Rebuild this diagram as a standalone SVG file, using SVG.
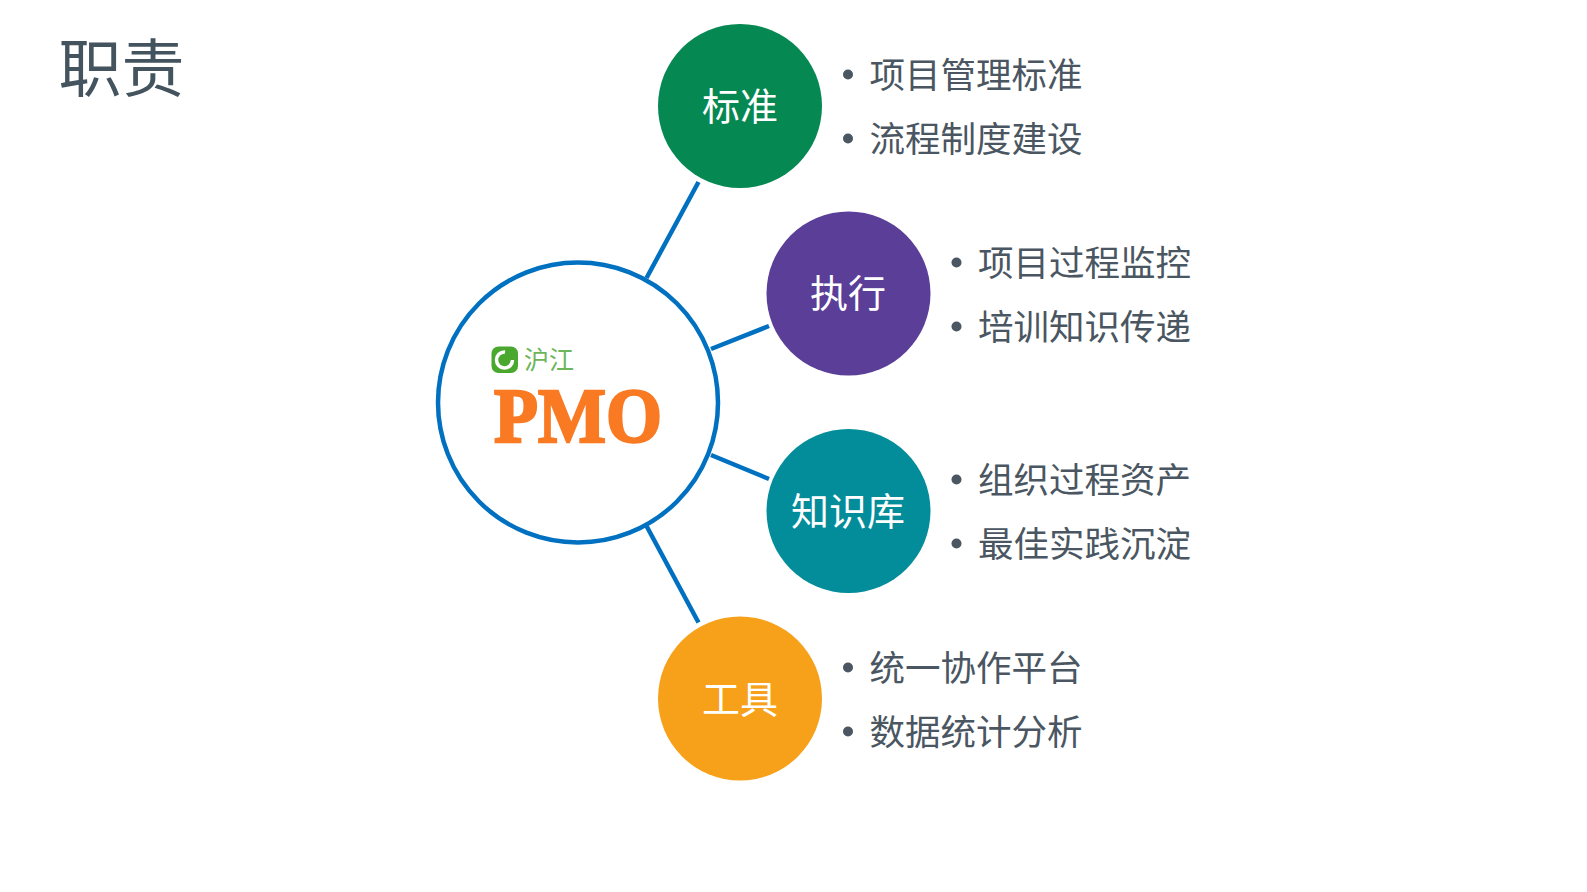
<svg xmlns="http://www.w3.org/2000/svg" width="1587" height="892" viewBox="0 0 1587 892">
<style>
text{font-family:"Noto Sans CJK SC","Liberation Sans",sans-serif}
.t{font-size:35.500px;fill:#4a5661}
.b{fill:#4a5661}
.n{font-size:38px;fill:#fff;text-anchor:middle}
.c{stroke:#0070c0;stroke-width:4.5;fill:none}
</style>
<rect width="1587" height="892" fill="#fff"/>
<text id="title" x="58.500" y="91" font-size="63" fill="#44545f">职责</text>
<g id="connectors">
<line class="c" x1="698.500" y1="182" x2="646.500" y2="278"/>
<line class="c" x1="769" y1="326" x2="711" y2="349"/>
<line class="c" x1="769" y1="479" x2="711" y2="455"/>
<line class="c" x1="698.500" y1="622.500" x2="646.500" y2="526"/>
</g>
<g id="pmo">
<circle cx="578" cy="402.500" r="140" fill="#fff" stroke="#0070c0" stroke-width="4.5"/>
<rect x="491.500" y="346.500" width="26.500" height="26.500" rx="7" fill="#4aa82f"/>
<circle cx="504.500" cy="360" r="8" fill="none" stroke="#fff" stroke-width="3.500" stroke-dasharray="38 12"/>
<text x="524" y="369" font-size="25" fill="#6cb55a">沪江</text>
<text x="494" y="442" font-size="79" font-weight="700" fill="#f97a22" stroke="#f97a22" stroke-width="2.500" textLength="168" lengthAdjust="spacingAndGlyphs" style="font-family:'Liberation Serif',serif">PMO</text>
</g>
<g id="standard">
<circle cx="740" cy="106" r="82" fill="#058852"/>
<text class="n" x="740" y="119.500">标准</text>
<circle class="b" cx="848" cy="74.500" r="5"/><text class="t" x="869.500" y="87.500">项目管理标准</text>
<circle class="b" cx="848" cy="138.500" r="5"/><text class="t" x="869.500" y="151.500">流程制度建设</text>
</g>
<g id="execute">
<circle cx="848.500" cy="293.500" r="82" fill="#5a3e98"/>
<text class="n" x="848" y="307">执行</text>
<circle class="b" cx="956.500" cy="262.500" r="5"/><text class="t" x="978" y="275.500">项目过程监控</text>
<circle class="b" cx="956.500" cy="326.500" r="5"/><text class="t" x="978" y="339.500">培训知识传递</text>
</g>
<g id="knowledge">
<circle cx="848.500" cy="511" r="82" fill="#038d9b"/>
<text class="n" x="848" y="524.500">知识库</text>
<circle class="b" cx="956.500" cy="479.500" r="5"/><text class="t" x="978" y="492.500">组织过程资产</text>
<circle class="b" cx="956.500" cy="543.500" r="5"/><text class="t" x="978" y="556.500">最佳实践沉淀</text>
</g>
<g id="tools">
<circle cx="740" cy="698.500" r="82" fill="#f7a11a"/>
<text class="n" x="740" y="712.500">工具</text>
<circle class="b" cx="848" cy="667.500" r="5"/><text class="t" x="869.500" y="680.500">统一协作平台</text>
<circle class="b" cx="848" cy="731.500" r="5"/><text class="t" x="869.500" y="744.500">数据统计分析</text>
</g>
</svg>
